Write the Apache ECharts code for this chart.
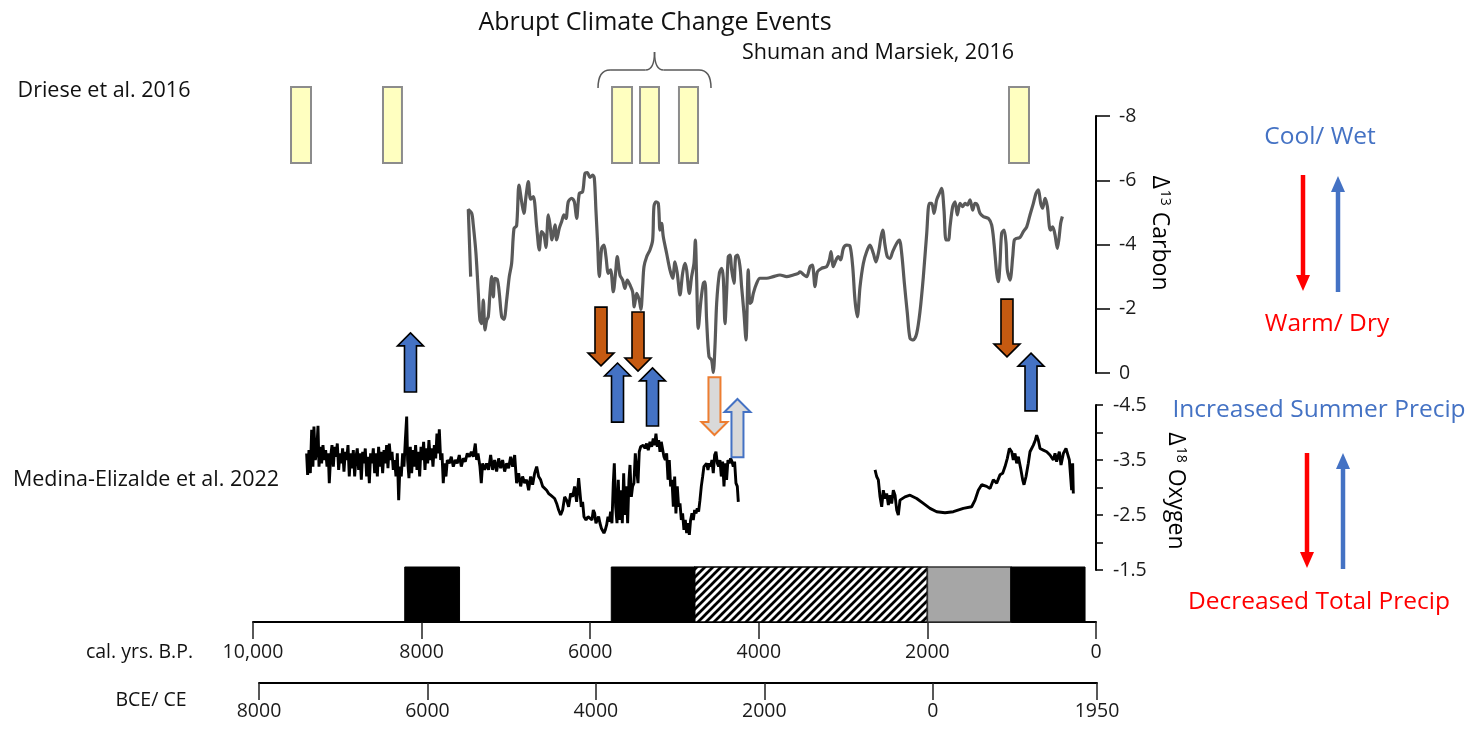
<!DOCTYPE html>
<html>
<head>
<meta charset="utf-8">
<title>Holocene climate records</title>
<script src="https://cdn.jsdelivr.net/npm/echarts@6/dist/echarts.min.js"></script>
<style>
  html, body { margin: 0; padding: 0; background: #ffffff; }
  #chart { width: 1480px; height: 729px; }
</style>
</head>
<body>
<div id="chart"></div>
<script>
// ---------- time axes (cal. yrs B.P. and BCE/CE) ----------
const bpRange = [0, 10000];
const bpStep = 2000;
const ceRange = [-8000, 1950];

// ---------- Driese et al. 2016 event windows [start BP, end BP] ----------
const eventStart = [9549, 8458, 5741, 5409, 4947, 1032];
const eventEnd   = [9312, 8233, 5504, 5184, 4721, 795];
// Shuman and Marsiek 2016 abrupt-change bracket [start BP, end BP]
const abruptSpan = [5907, 4567];

// ---------- carbon isotope record [BP, value] ----------
const carbonSeries = [
  [7418,-3.00],[7446,-5.09],[7406,-4.97],[7387,-4.61],[7355,-3.72],[7327,-2.48],[7308,-1.65],[7288,-1.54],
  [7268,-2.27],[7248,-1.34],[7228,-1.65],[7209,-1.75],[7189,-2.48],[7169,-3.00],[7149,-2.37],[7130,-2.95],
  [7102,-2.91],[7078,-2.48],[7050,-1.75],[7023,-1.67],[6991,-2.27],[6960,-3.00],[6932,-3.41],[6904,-4.50],
  [6873,-4.58],[6845,-5.85],[6813,-5.33],[6786,-4.97],[6762,-5.49],[6734,-5.96],[6707,-5.41],[6675,-5.49],
  [6635,-4.55],[6604,-3.83],[6576,-4.40],[6548,-4.30],[6525,-3.91],[6497,-4.92],[6477,-4.61],[6453,-4.14],
  [6418,-4.61],[6398,-4.14],[6367,-4.50],[6339,-4.71],[6311,-4.92],[6287,-4.81],[6260,-5.33],[6220,-5.44],
  [6188,-5.33],[6161,-4.81],[6129,-5.59],[6090,-5.64],[6062,-6.21],[6034,-6.24],[6003,-6.09],[5971,-6.16],
  [5951,-6.06],[5932,-5.07],[5912,-4.04],[5892,-3.00],[5864,-3.88],[5837,-3.98],[5813,-3.62],[5785,-3.10],
  [5758,-3.21],[5726,-2.53],[5698,-3.15],[5679,-3.62],[5647,-3.05],[5615,-2.89],[5588,-2.63],[5560,-2.89],
  [5528,-2.74],[5497,-2.53],[5477,-2.06],[5449,-2.48],[5418,-2.27],[5398,-1.98],[5378,-2.69],[5362,-3.31],
  [5330,-3.62],[5291,-3.83],[5259,-4.14],[5244,-5.18],[5220,-5.33],[5192,-5.28],[5172,-4.45],[5153,-4.66],
  [5133,-4.24],[5093,-3.72],[5054,-3.21],[5022,-2.95],[4994,-3.46],[4967,-3.10],[4935,-2.43],[4904,-3.10],
  [4876,-3.41],[4856,-3.21],[4824,-2.48],[4797,-3.00],[4769,-3.41],[4753,-4.14],[4737,-2.89],[4718,-1.39],
  [4686,-2.27],[4658,-2.79],[4639,-2.84],[4619,-1.65],[4591,-0.51],[4560,-0.40],[4540,-0.02],[4520,-0.82],
  [4500,-2.17],[4468,-3.10],[4441,-3.26],[4421,-2.95],[4401,-1.54],[4382,-2.48],[4362,-3.62],[4342,-3.67],
  [4322,-3.21],[4295,-2.79],[4275,-3.62],[4251,-3.67],[4223,-3.31],[4204,-2.69],[4176,-1.86],[4152,-1.03],
  [4125,-3.21],[4105,-2.17],[4085,-2.22],[4065,-2.48],[4026,-2.79],[3986,-2.95],[3907,-2.95],[3828,-3.00],
  [3749,-3.05],[3670,-3.00],[3591,-3.05],[3531,-3.10],[3511,-3.15],[3464,-3.05],[3432,-3.00],[3392,-3.31],
  [3365,-3.36],[3333,-2.69],[3305,-3.15],[3254,-3.26],[3195,-3.31],[3163,-3.52],[3143,-3.78],[3116,-3.31],
  [3084,-3.52],[3056,-3.62],[3029,-3.52],[2997,-3.88],[2957,-3.98],[2918,-3.95],[2886,-3.31],[2859,-2.27],
  [2831,-1.75],[2799,-2.69],[2760,-3.41],[2720,-3.78],[2681,-3.98],[2641,-3.72],[2610,-3.46],[2578,-3.78],
  [2550,-4.24],[2530,-4.45],[2503,-3.98],[2475,-3.62],[2443,-3.57],[2412,-3.78],[2364,-4.04],[2333,-4.14],
  [2305,-3.72],[2273,-2.79],[2238,-1.86],[2206,-1.08],[2167,-1.03],[2127,-1.23],[2088,-1.91],[2048,-3.00],
  [2008,-4.35],[1977,-5.28],[1949,-5.28],[1921,-4.97],[1890,-5.39],[1858,-5.59],[1831,-5.75],[1803,-5.07],
  [1779,-4.14],[1751,-4.14],[1732,-4.55],[1700,-5.18],[1672,-5.33],[1645,-4.92],[1613,-5.28],[1581,-5.18],
  [1554,-5.28],[1526,-5.23],[1494,-5.39],[1463,-5.07],[1435,-5.28],[1407,-5.23],[1376,-4.97],[1336,-4.87],
  [1277,-4.81],[1238,-4.61],[1210,-4.04],[1178,-3.10],[1158,-2.84],[1139,-3.41],[1119,-4.35],[1091,-4.45],
  [1067,-4.04],[1052,-3.21],[1020,-2.89],[988,-3.62],[969,-4.14],[941,-4.19],[901,-4.22],[862,-4.40],
  [822,-4.55],[783,-4.92],[743,-5.28],[712,-5.59],[684,-5.70],[656,-5.28],[633,-5.13],[605,-5.44],
  [577,-5.18],[553,-4.55],[538,-4.45],[514,-4.55],[486,-4.30],[459,-3.88],[439,-4.19],[419,-4.66],[399,-4.87]
];

// ---------- oxygen isotope record, Medina-Elizalde et al. 2022 [BP, value] ----------
const oxygenEarly = [
  [9364,-3.62],[9352,-3.23],[9336,-3.68],[9320,-3.26],[9304,-4.05],[9289,-3.38],[9277,-4.11],[9261,-3.50],
  [9245,-3.65],[9229,-4.12],[9217,-3.38],[9202,-3.74],[9186,-3.44],[9170,-3.77],[9154,-3.50],[9138,-3.68],
  [9122,-3.38],[9107,-3.62],[9095,-3.08],[9079,-3.56],[9063,-3.77],[9047,-3.38],[9032,-3.74],[9016,-3.56],
  [9000,-3.80],[8984,-3.32],[8968,-3.62],[8952,-3.44],[8937,-3.71],[8921,-3.29],[8905,-3.65],[8889,-3.50],
  [8873,-3.77],[8858,-3.20],[8842,-3.62],[8826,-3.35],[8810,-3.68],[8794,-3.20],[8778,-3.56],[8763,-3.71],
  [8747,-3.32],[8731,-3.62],[8715,-3.14],[8699,-3.65],[8684,-3.44],[8668,-3.71],[8652,-3.20],[8636,-3.56],
  [8620,-3.08],[8605,-3.62],[8589,-3.44],[8573,-3.71],[8557,-3.26],[8541,-3.62],[8525,-3.20],[8510,-3.74],
  [8494,-3.38],[8478,-3.65],[8462,-3.26],[8446,-3.68],[8431,-3.44],[8415,-3.77],[8399,-3.35],[8383,-3.80],
  [8367,-3.50],[8351,-3.65],[8336,-3.32],[8320,-3.50],[8304,-3.20],[8288,-3.62],[8272,-2.77],[8257,-3.38],
  [8241,-3.20],[8225,-3.62],[8209,-3.38],[8193,-3.86],[8177,-4.29],[8166,-3.50],[8150,-3.17],[8134,-3.74],
  [8118,-3.26],[8102,-3.68],[8087,-3.38],[8071,-3.77],[8055,-3.32],[8039,-3.65],[8023,-3.20],[8007,-3.74],
  [7992,-3.50],[7976,-3.83],[7960,-3.32],[7944,-3.71],[7928,-3.44],[7913,-3.86],[7897,-3.50],[7881,-3.71],
  [7865,-3.38],[7849,-3.77],[7833,-3.53],[7818,-3.98],[7802,-3.62],[7790,-4.06],[7774,-3.50],[7758,-3.62],
  [7743,-3.08],[7727,-3.44],[7711,-3.20],[7695,-3.50],[7671,-3.44],[7648,-3.56],[7624,-3.38],[7600,-3.50],
  [7577,-3.44],[7553,-3.59],[7529,-3.38],[7505,-3.53],[7482,-3.47],[7458,-3.62],[7434,-3.56],[7410,-3.65],
  [7387,-3.56],[7363,-3.80],[7347,-3.50],[7331,-3.62],[7308,-3.38],[7292,-3.08],[7276,-3.44],[7252,-3.32],
  [7229,-3.44],[7205,-3.32],[7181,-3.59],[7157,-3.32],[7134,-3.50],[7110,-3.29],[7086,-3.53],[7062,-3.35],
  [7039,-3.50],[7015,-3.29],[6991,-3.44],[6968,-3.35],[6944,-3.56],[6920,-3.38],[6896,-3.59],[6873,-3.08],
  [6849,-3.26],[6825,-3.02],[6802,-3.20],[6778,-3.08],[6754,-3.14],[6730,-2.95],[6707,-3.20],[6683,-3.05],
  [6659,-3.26],[6635,-3.38],[6612,-3.20],[6588,-3.14],[6564,-3.02],[6541,-3.02],[6517,-2.95],[6493,-2.89],
  [6469,-2.86],[6446,-2.83],[6422,-2.80],[6398,-2.71],[6374,-2.59],[6351,-2.50],[6327,-2.59],[6303,-2.83],
  [6280,-2.77],[6256,-2.65],[6232,-2.89],[6208,-2.83],[6185,-3.02],[6161,-2.74],[6137,-3.17],[6121,-3.20],
  [6106,-2.65],[6090,-2.74],[6074,-2.47],[6050,-2.41],[6026,-2.47],[6003,-2.47],[5979,-2.41],[5963,-2.59],
  [5947,-2.53],[5932,-2.35],[5916,-2.32],[5900,-2.47],[5884,-2.35],[5868,-2.26],[5853,-2.29],[5837,-2.17],
  [5821,-2.23],[5805,-2.32],[5789,-2.47],[5773,-2.38],[5758,-2.56],[5742,-2.35],[5726,-3.08],[5714,-3.44],
  [5698,-2.65],[5682,-2.35],[5667,-3.14],[5651,-2.41],[5635,-2.95],[5619,-2.35],[5603,-3.26],[5588,-2.50],
  [5572,-3.02],[5556,-2.35],[5540,-3.14],[5528,-3.41],[5512,-2.83],[5497,-3.02],[5481,-3.08],[5465,-3.62],
  [5449,-3.32],[5433,-3.08],[5418,-3.65],[5402,-3.74],[5386,-3.71],[5370,-3.77],[5350,-3.71],[5331,-3.80],
  [5311,-3.68],[5291,-3.83],[5271,-3.74],[5252,-3.89],[5236,-3.77],[5220,-3.98],[5204,-3.74],[5188,-3.86],
  [5172,-3.65],[5157,-3.83],[5141,-3.86],[5125,-3.56],[5109,-3.50],[5093,-3.62],[5077,-3.14],[5062,-3.50],
  [5046,-3.02],[5030,-3.14],[5014,-2.65],[4998,-3.20],[4983,-2.53],[4967,-3.02],[4951,-2.65],[4935,-2.71],
  [4919,-2.41],[4904,-2.53],[4888,-2.23],[4872,-2.41],[4856,-2.17],[4840,-2.35],[4824,-2.14],[4809,-2.41],
  [4793,-2.53],[4777,-2.41],[4761,-2.59],[4745,-2.53],[4730,-2.62],[4714,-2.56],[4698,-2.77],[4682,-3.02],
  [4666,-3.20],[4651,-3.38],[4635,-3.35],[4619,-3.44],[4603,-3.32],[4587,-3.44],[4572,-3.38],[4556,-3.50],
  [4540,-3.26],[4524,-3.59],[4508,-3.65],[4492,-3.44],[4477,-3.38],[4461,-3.50],[4445,-3.20],[4429,-3.47],
  [4413,-3.02],[4398,-3.44],[4382,-3.14],[4366,-3.50],[4350,-3.44],[4334,-3.53],[4318,-3.47],[4303,-3.38],
  [4287,-3.47],[4271,-3.08],[4255,-3.02],[4243,-2.74]
];
const oxygenLate = [
  [2621,-3.32],[2602,-3.20],[2582,-3.14],[2562,-2.83],[2542,-2.65],[2523,-2.95],[2503,-2.80],[2483,-2.89],
  [2463,-2.68],[2444,-2.86],[2424,-2.71],[2404,-2.95],[2384,-2.86],[2364,-2.59],[2345,-2.50],[2325,-2.77],
  [2305,-2.80],[2266,-2.83],[2206,-2.86],[2127,-2.80],[2048,-2.71],[1969,-2.62],[1890,-2.56],[1791,-2.54],
  [1692,-2.56],[1574,-2.62],[1475,-2.65],[1435,-2.77],[1396,-2.95],[1356,-3.05],[1297,-3.02],[1257,-2.98],
  [1218,-3.14],[1178,-3.08],[1139,-3.23],[1107,-3.26],[1079,-3.38],[1052,-3.53],[1028,-3.71],[1000,-3.65],
  [981,-3.50],[961,-3.62],[941,-3.44],[921,-3.56],[894,-3.35],[870,-3.14],[854,-3.05],[830,-3.20],
  [803,-3.44],[783,-3.65],[763,-3.65],[743,-3.77],[720,-3.86],[704,-3.95],[684,-3.86],[664,-3.71],
  [625,-3.68],[585,-3.65],[546,-3.59],[506,-3.50],[486,-3.62],[467,-3.47],[435,-3.65],[415,-3.41],
  [387,-3.62],[356,-3.71],[340,-3.68],[316,-3.50],[300,-3.47],[289,-2.95],[277,-3.44],[269,-2.89]
];

// ---------- shift arrows: year, head and tail (in carbon-axis units), kind ----------
const arrowYear = [8132, 5676, 5261, 771, 5872, 5433, 1056, 4526, 4253];
const arrowHead = [-1.25, -0.31, -0.16, -0.62, -0.22, -0.06, -0.50, 1.93, 0.81];
const arrowTail = [0.59, 1.53, 1.65, 1.18, -2.05, -1.90, -2.30, 0.13, 2.62];
const arrowKind = ['wet', 'wet', 'wet', 'wet', 'dry', 'dry', 'dry', 'dryWeak', 'wetWeak'];

// ---------- climate periods along the time axis ----------
const periodStart = [8200, 5750, 4760, 2000, 1010];
const periodEnd   = [7550, 4760, 2000, 1010, 130];
const periodKind  = ['solid', 'solid', 'hatch', 'grey', 'solid'];

// ---------- axis ticks ----------
const carbonTicks = [-8, -6, -4, -2, 0];
const oxygenTicks = [-4.5, -4, -3.5, -3, -2.5, -2, -1.5];
const oxygenLabelled = [-4.5, -3.5, -2.5, -1.5];

const FONT = '"Open Sans", "Noto Sans", sans-serif';
const GRID_L = 253, GRID_R = 384;

function hatchCanvas() {
  const c = document.createElement('canvas');
  c.width = 8; c.height = 8;
  const g = c.getContext('2d');
  g.fillStyle = '#ffffff';
  g.fillRect(0, 0, 8, 8);
  g.strokeStyle = '#000000';
  g.lineWidth = 2.8;
  g.beginPath();
  g.moveTo(-2, 10); g.lineTo(10, -2);
  g.moveTo(-6, 6); g.lineTo(6, -6);
  g.moveTo(2, 14); g.lineTo(14, 2);
  g.stroke();
  return c;
}
const hatch = hatchCanvas();

const arrowStyles = {
  wet:     { fill: '#4472c4', stroke: '#000000', lineWidth: 1.6 },
  dry:     { fill: '#c55a11', stroke: '#000000', lineWidth: 1.6 },
  dryWeak: { fill: '#d9d9d9', stroke: '#ed7d31', lineWidth: 2 },
  wetWeak: { fill: '#d9d9d9', stroke: '#4472c4', lineWidth: 2 }
};

const chart = echarts.init(document.getElementById('chart'), null, { renderer: 'canvas' });

const hiddenX = (gi) => ({ gridIndex: gi, type: 'value', min: bpRange[0], max: bpRange[1], inverse: true, show: false });
const hiddenY = (gi) => ({ gridIndex: gi, type: 'value', min: 0, max: 1, show: false });

function textEl(text, x, y, size, color, align, extra) {
  return Object.assign({
    type: 'text', x: x, y: y, silent: true,
    style: {
      text: text, x: 0, y: 0, fill: color,
      font: 'normal ' + size + 'px ' + FONT,
      align: align || 'center', verticalAlign: 'middle',
      textAlign: align || 'center', textVerticalAlign: 'middle'
    }
  }, extra || {});
}

function legendArrow(x, yTail, yHead, color) {
  const d = yHead > yTail ? 1 : -1;
  return {
    type: 'group', silent: true,
    children: [
      { type: 'line', shape: { x1: x, y1: yTail, x2: x, y2: yHead - d * 14 }, style: { stroke: color, lineWidth: 4.5 } },
      { type: 'polygon', shape: { points: [[x, yHead], [x - 7, yHead - d * 16], [x + 7, yHead - d * 16]] }, style: { fill: color } }
    ]
  };
}

function axisTitle(sup, word, x, y) {
  return {
    type: 'text', x: x, y: y, rotation: -Math.PI / 2, silent: true,
    style: {
      text: '{d|\u0394}{s|' + sup + '}{n| ' + word + '}',
      fill: '#000000',
      align: 'center', verticalAlign: 'middle',
      textAlign: 'center', textVerticalAlign: 'middle',
      rich: {
        d: { fontSize: 23, fontFamily: FONT, fill: '#000' },
        s: { fontSize: 14, fontFamily: FONT, fill: '#000', verticalAlign: 'top', padding: [0, 0, 0, 1] },
        n: { fontSize: 23, fontFamily: FONT, fill: '#000' }
      }
    }
  };
}

const option = {
  animation: false,
  backgroundColor: '#ffffff',
  grid: [
    { left: GRID_L, right: GRID_R, top: 87, height: 76 },    // event windows
    { left: GRID_L, right: GRID_R, top: 116, height: 257 },  // carbon
    { left: GRID_L, right: GRID_R, top: 405, height: 165 },  // oxygen
    { left: GRID_L, right: GRID_R, top: 567, height: 55 },   // periods + B.P. axis
    { left: 259, right: 383, top: 682, height: 1 }           // BCE/CE axis
  ],
  xAxis: [
    hiddenX(0), hiddenX(1), hiddenX(2),
    {
      gridIndex: 3, type: 'value', min: bpRange[0], max: bpRange[1], interval: bpStep, inverse: true,
      axisLine: { show: true, lineStyle: { color: '#000', width: 2 } },
      axisTick: { show: true, length: 17, lineStyle: { color: '#222', width: 1.5 } },
      axisLabel: {
        fontSize: 19.5, fontFamily: FONT, color: '#1a1a1a', margin: 20,
        formatter: (v) => v === 10000 ? '10,000' : String(v)
      },
      splitLine: { show: false }
    },
    {
      gridIndex: 4, type: 'value', min: ceRange[0], max: ceRange[1], interval: bpStep,
      axisLine: { show: true, lineStyle: { color: '#000', width: 2 } },
      axisTick: { show: true, length: 17, lineStyle: { color: '#222', width: 1.5 } },
      axisLabel: {
        fontSize: 19.5, fontFamily: FONT, color: '#1a1a1a', margin: 18,
        formatter: (v) => String(Math.abs(v))
      },
      splitLine: { show: false }
    }
  ],
  yAxis: [
    hiddenY(0),
    {
      gridIndex: 1, type: 'value', min: carbonTicks[0], max: carbonTicks[carbonTicks.length - 1],
      interval: carbonTicks[1] - carbonTicks[0], inverse: true, position: 'right',
      axisLine: { show: true, lineStyle: { color: '#000', width: 2 } },
      axisTick: { show: true, length: 14, lineStyle: { color: '#000', width: 1.5 } },
      axisLabel: { fontSize: 19.5, fontFamily: FONT, color: '#1a1a1a', margin: 23 },
      splitLine: { show: false }
    },
    {
      gridIndex: 2, type: 'value', min: oxygenTicks[0], max: oxygenTicks[oxygenTicks.length - 1],
      interval: oxygenTicks[1] - oxygenTicks[0], inverse: true, position: 'right', offset: 3,
      axisLine: { show: true, lineStyle: { color: '#000', width: 2 } },
      axisTick: { show: true, length: 7, lineStyle: { color: '#000', width: 1.5 } },
      axisLabel: {
        fontSize: 19.5, fontFamily: FONT, color: '#1a1a1a', margin: 14,
        formatter: (v) => oxygenLabelled.some((t) => Math.abs(t - v) < 1e-6) ? v.toFixed(1) : ''
      },
      splitLine: { show: false }
    },
    hiddenY(3),
    hiddenY(4)
  ],
  series: [
    // Driese et al. event windows
    {
      type: 'custom', xAxisIndex: 0, yAxisIndex: 0, clip: false, silent: true,
      data: eventStart.map((s, i) => [s, eventEnd[i]]),
      renderItem: (params, api) => {
        const a = api.coord([api.value(0), 1]);
        const b = api.coord([api.value(1), 0]);
        return {
          type: 'rect',
          shape: { x: a[0], y: a[1], width: b[0] - a[0], height: b[1] - a[1] },
          style: { fill: '#ffffc0', stroke: '#8c8c8c', lineWidth: 2 }
        };
      }
    },
    // bracket over the abrupt-change windows
    {
      type: 'custom', xAxisIndex: 0, yAxisIndex: 0, clip: false, silent: true,
      data: [abruptSpan],
      renderItem: (params, api) => {
        const a = api.coord([api.value(0), 1]);
        const b = api.coord([api.value(1), 1]);
        const L = a[0], R = b[0], C = (L + R) / 2;
        const bot = a[1] + 1, mid = a[1] - 17, tip = a[1] - 35;
        const st = { stroke: '#595959', lineWidth: 1.5, fill: null };
        return {
          type: 'group',
          children: [
            { type: 'bezierCurve', shape: { x1: L, y1: bot, x2: L + 12, y2: mid, cpx1: L, cpy1: mid }, style: st },
            { type: 'line', shape: { x1: L + 12, y1: mid, x2: C - 9, y2: mid }, style: st },
            { type: 'bezierCurve', shape: { x1: C - 9, y1: mid, x2: C, y2: tip, cpx1: C, cpy1: mid }, style: st },
            { type: 'bezierCurve', shape: { x1: C, y1: tip, x2: C + 9, y2: mid, cpx1: C, cpy1: mid }, style: st },
            { type: 'line', shape: { x1: C + 9, y1: mid, x2: R - 12, y2: mid }, style: st },
            { type: 'bezierCurve', shape: { x1: R - 12, y1: mid, x2: R, y2: bot, cpx1: R, cpy1: mid }, style: st }
          ]
        };
      }
    },
    // carbon isotope curve
    {
      type: 'line', xAxisIndex: 1, yAxisIndex: 1, data: carbonSeries,
      showSymbol: false, symbol: 'none', smooth: 0.3, silent: true,
      lineStyle: { color: '#595959', width: 3.2 }
    },
    // oxygen isotope curve (two sections)
    {
      type: 'line', xAxisIndex: 2, yAxisIndex: 2, data: oxygenEarly,
      showSymbol: false, symbol: 'none', silent: true,
      lineStyle: { color: '#000000', width: 2.9 }
    },
    {
      type: 'line', xAxisIndex: 2, yAxisIndex: 2, data: oxygenLate,
      showSymbol: false, symbol: 'none', silent: true,
      lineStyle: { color: '#000000', width: 2.9 }
    },
    // wet / dry shift arrows
    {
      type: 'custom', xAxisIndex: 1, yAxisIndex: 1, clip: false, silent: true, z: 5,
      data: arrowYear.map((y, i) => [y, arrowHead[i], arrowTail[i]]),
      renderItem: (params, api) => {
        const h = api.coord([api.value(0), api.value(1)]);
        const t = api.coord([api.value(0), api.value(2)]);
        const cx = h[0], hy = h[1], ty = t[1];
        const d = hy < ty ? 1 : -1;
        const hb = hy + d * 13;
        return {
          type: 'polygon',
          shape: { points: [[cx, hy], [cx + 13, hb], [cx + 6, hb], [cx + 6, ty], [cx - 6, ty], [cx - 6, hb], [cx - 13, hb]] },
          style: arrowStyles[arrowKind[params.dataIndex]]
        };
      }
    },
    // climate periods above the B.P. axis
    {
      type: 'custom', xAxisIndex: 3, yAxisIndex: 3, clip: false, silent: true,
      data: periodStart.map((s, i) => [s, periodEnd[i]]),
      renderItem: (params, api) => {
        const a = api.coord([api.value(0), 1]);
        const b = api.coord([api.value(1), 0]);
        const k = periodKind[params.dataIndex];
        const style = k === 'hatch'
          ? { fill: { image: hatch, repeat: 'repeat' }, stroke: '#000', lineWidth: 1.5 }
          : k === 'grey'
            ? { fill: '#a6a6a6', stroke: '#333', lineWidth: 1.5 }
            : { fill: '#000000', stroke: '#000000', lineWidth: 1 };
        return {
          type: 'rect',
          shape: { x: a[0], y: a[1], width: b[0] - a[0], height: b[1] - a[1] },
          style: style
        };
      }
    }
  ],
  graphic: [
    textEl('Abrupt Climate Change Events', 655, 23, 25, '#111'),
    textEl('Shuman and Marsiek, 2016', 878, 53, 21.5, '#111'),
    textEl('Driese et al. 2016', 104, 91, 21.5, '#111'),
    textEl('Medina-Elizalde et al. 2022', 146, 480, 21.5, '#111'),
    textEl('cal. yrs. B.P.', 193, 652, 19.5, '#111', 'right'),
    textEl('BCE/ CE', 151, 700, 19.5, '#111'),
    axisTitle('13', 'Carbon', 1160, 233),
    axisTitle('18', 'Oxygen', 1176, 491),
    textEl('Cool/ Wet', 1320, 137, 24.5, '#4472c4'),
    textEl('Warm/ Dry', 1327, 324, 24.5, '#ff0000'),
    textEl('Increased Summer Precip', 1319, 410, 24.5, '#4472c4'),
    textEl('Decreased Total Precip', 1319, 602, 24.5, '#ff0000'),
    legendArrow(1303, 175, 291, '#ff0000'),
    legendArrow(1338, 292, 176, '#4472c4'),
    legendArrow(1307, 453, 568, '#ff0000'),
    legendArrow(1343, 569, 453, '#4472c4')
  ]
};

chart.setOption(option);
</script>
</body>
</html>
